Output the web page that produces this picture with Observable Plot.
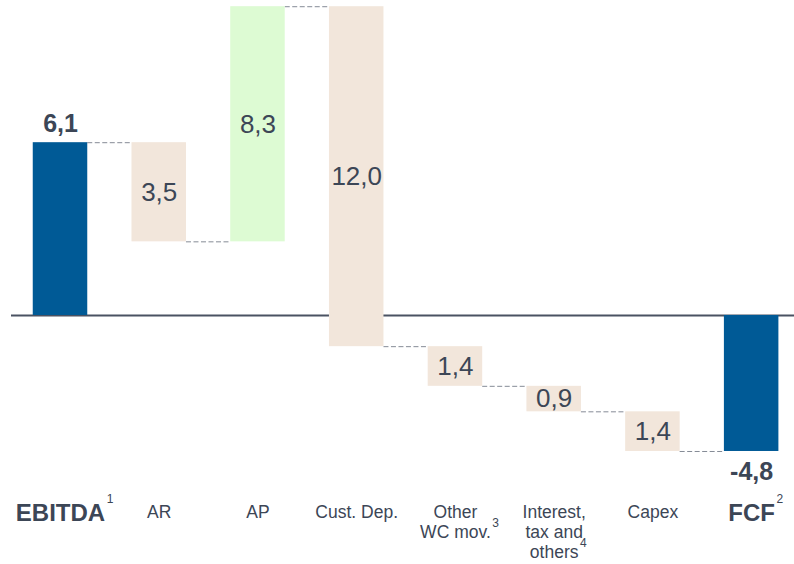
<!DOCTYPE html>
<html>
<head>
<meta charset="utf-8">
<script src="https://cdn.jsdelivr.net/npm/d3@7"></script>
<script src="https://cdn.jsdelivr.net/npm/@observablehq/plot@0.6"></script>
<style>
  html, body { margin: 0; padding: 0; background: #fff; }
  #chart svg { display: block; }
</style>
</head>
<body>
<div id="chart"></div>
<script>
// Cash-flow bridge from EBITDA to free cash flow (EUR m)
const categories = ["EBITDA", "AR", "AP", "Cust. Dep.", "Other\nWC mov.", "Interest,\ntax and\nothers", "Capex", "FCF"];
const footnotes  = ["1", "", "", "", "3", "4", "", "2"];
const values     = [6.1, -3.5, 8.3, -12.0, -1.4, -0.9, -1.4, -4.8];
const kinds      = ["total", "decrease", "increase", "decrease", "decrease", "decrease", "decrease", "total"];

const colors = {total: "#005a96", increase: "#ddfbd3", decrease: "#f2e6db"};
const ink = "#3c4656";
const font = "'Liberation Sans', Arial, Helvetica, sans-serif";

// Comma as decimal separator, plain hyphen for negatives
const locale = d3.formatLocale({decimal: ",", thousands: ".", grouping: [3], currency: ["", " €"], minus: "-"});
const fmt = locale.format(".1f");

// Running totals: totals start from zero, movements start where the previous bar ended
let running = 0;
const steps = categories.map((name, i) => {
  const kind = kinds[i];
  const start = kind === "total" ? 0 : running;
  const end = kind === "total" ? values[i] : running + values[i];
  running = end;
  const label = kind === "total" ? fmt(values[i]) : fmt(Math.abs(values[i]));
  return {i, name, note: footnotes[i], kind, value: values[i], start, end, mid: (start + end) / 2, label};
});

const half = 0.276; // half bar width, in category steps

const connectors = steps.slice(0, -1).map((s, k) => ({x1: s.i + half, x2: steps[k + 1].i - half, y: s.end}));

const totals = steps.filter(d => d.kind === "total");
const moves = steps.filter(d => d.kind !== "total");

// Text widths, for hanging the footnote markers off the category labels
const ctx = document.createElement("canvas").getContext("2d");
function textWidth(str, weight, size) {
  ctx.font = `${weight} ${size}px ${font}`;
  return ctx.measureText(str).width;
}

const labelTop = 39;       // cap top of the category labels, below the frame
const lineStep = 20;       // line spacing of the category labels
const catSize = 17.5;
const totalSize = 24;

const footnoteMarks = steps.filter(d => d.note).map(d => {
  const lines = d.name.split("\n");
  const bold = d.kind === "total";
  const w = textWidth(lines[lines.length - 1], bold ? "bold" : "normal", bold ? totalSize : catSize);
  const dy = bold ? labelTop - 9 : labelTop + (lines.length - 1) * lineStep - 5;
  return Plot.text([d], {
    x: "i", text: "note", frameAnchor: "bottom", lineAnchor: "top", textAnchor: "start",
    dx: w / 2 + 1.5, dy, fontSize: 12, fill: ink
  });
});

const chart = Plot.plot({
  width: 794,
  height: 564,
  marginTop: 0,
  marginLeft: 11,
  marginRight: 0,
  marginBottom: 100,
  x: {type: "linear", domain: [-0.4963, 7.434], axis: null},
  y: {domain: [-5.2594, 11.119], axis: null},
  style: {fontFamily: font, color: ink, background: "#fff"},
  marks: [
    Plot.ruleY([0], {stroke: "#4a5262", strokeWidth: 2}),
    Plot.ruleY(connectors, {x1: "x1", x2: "x2", y: "y", stroke: "#858b96", strokeWidth: 1, strokeDasharray: "5,2.5"}),
    Plot.rectY(steps, {
      x1: d => d.i - half, x2: d => d.i + half, y1: "start", y2: "end",
      fill: d => colors[d.kind]
    }),
    // values inside the movement bars
    Plot.text(moves, {x: "i", y: "mid", text: "label", fontSize: 26, fill: ink}),
    // values beyond the total bars
    Plot.text(totals, {
      x: "i", y: "end", text: "label", fontSize: 25, fontWeight: "bold", fill: ink,
      dy: 0, lineAnchor: "middle",
      render(index, scales, channels, dimensions, context, next) {
        const g = next(index, scales, channels, dimensions, context);
        d3.select(g).selectAll("text").each(function(_, k) {
          const d = totals[index[k]];
          const y = +this.getAttribute("transform").match(/,\s*([-\d.]+)\)/)[1];
          this.setAttribute("transform", this.getAttribute("transform").replace(/,\s*([-\d.]+)\)/, `,${y + (d.value >= 0 ? -19 : 21)})`));
        });
        return g;
      }
    }),
    // category labels
    Plot.text(moves, {
      x: "i", text: "name", frameAnchor: "bottom", lineAnchor: "top", dy: labelTop,
      fontSize: catSize, lineHeight: lineStep / catSize, fill: ink
    }),
    Plot.text(totals, {
      x: "i", text: "name", frameAnchor: "bottom", lineAnchor: "top", dy: labelTop,
      fontSize: totalSize, fontWeight: "bold", fill: ink
    }),
    ...footnoteMarks
  ]
});

document.getElementById("chart").append(chart);
</script>
</body>
</html>
